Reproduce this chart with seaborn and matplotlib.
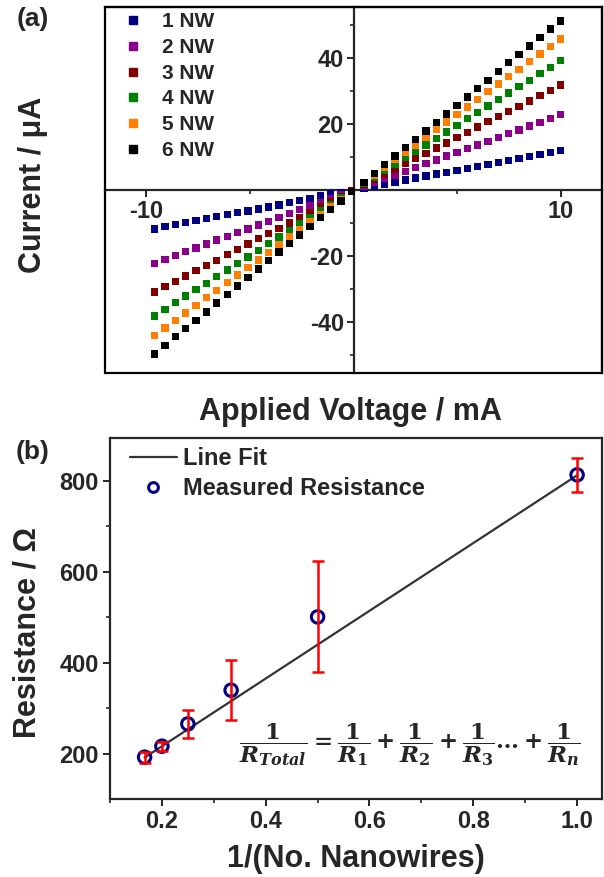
import numpy as np
import pandas as pd
import matplotlib
matplotlib.use("Agg")
import matplotlib.pyplot as plt
from matplotlib.patches import Rectangle
from matplotlib.lines import Line2D
import seaborn as sns

# ---------------- data: panel (a) ----------------
voltage = [-9.6, -9.1, -8.6, -8.1, -7.6, -7.1, -6.6, -6.1, -5.6, -5.1,
           -4.6, -4.1, -3.6, -3.1, -2.6, -2.1, -1.6, -1.1, -0.6, -0.1,
           0.5, 1.0, 1.5, 2.0, 2.5, 3.0, 3.5, 4.0, 4.5, 5.0,
           5.5, 6.0, 6.5, 7.0, 7.5, 8.0, 8.5, 9.0, 9.5, 10.0]

nw1 = [-11.8, -11.1, -10.4, -9.9, -9.3, -8.7, -8.1, -7.5, -6.9, -6.4,
       -5.8, -5.2, -4.5, -3.7, -3.2, -2.5, -1.8, -1.2, -0.8, -0.1,
       0.6, 1.2, 1.8, 2.4, 3.0, 3.6, 4.2, 4.8, 5.4, 6.0,
       6.5, 7.1, 7.7, 8.3, 8.9, 9.5, 10.1, 10.7, 11.3, 11.9]
nw2 = [-22.2, -21.0, -19.9, -18.7, -17.6, -16.4, -15.2, -14.1, -12.9, -11.8,
       -10.6, -9.5, -8.3, -7.2, -6.0, -4.9, -3.7, -2.5, -1.4, -0.2,
       1.1, 2.3, 3.4, 4.6, 5.7, 6.8, 8.0, 9.1, 10.3, 11.4,
       12.5, 13.7, 14.8, 16.0, 17.1, 18.2, 19.4, 20.5, 21.7, 22.8]
nw3 = [-30.9, -29.3, -27.7, -26.1, -24.5, -22.9, -21.3, -19.6, -18.0, -16.4,
       -14.8, -13.2, -11.6, -10.0, -8.4, -6.8, -5.2, -3.5, -1.9, -0.3,
       1.6, 3.2, 4.8, 6.4, 8.0, 9.5, 11.1, 12.7, 14.3, 15.9,
       17.5, 19.1, 20.7, 22.3, 23.9, 25.4, 27.0, 28.6, 30.2, 31.8]
nw4 = [-38.2, -36.2, -34.2, -32.2, -30.2, -28.3, -26.3, -24.3, -22.3, -20.3,
       -18.3, -16.3, -14.3, -12.3, -10.3, -8.4, -6.4, -4.4, -2.4, -0.4,
       2.0, 3.9, 5.9, 7.8, 9.8, 11.8, 13.7, 15.7, 17.6, 19.6,
       21.6, 23.5, 25.5, 27.4, 29.4, 31.4, 33.3, 35.3, 37.2, 39.2]
nw5 = [-44.2, -41.9, -39.6, -37.3, -35.0, -32.7, -30.4, -28.1, -25.8, -23.5,
       -21.2, -18.9, -16.6, -14.3, -12.0, -9.7, -7.4, -5.1, -2.8, -0.5,
       2.3, 4.6, 6.9, 9.2, 11.5, 13.7, 16.0, 18.3, 20.6, 22.9,
       25.2, 27.5, 29.8, 32.1, 34.4, 36.6, 38.9, 41.2, 43.5, 45.8]
nw6 = [-49.7, -47.1, -44.4, -42.0, -39.5, -37.0, -34.3, -31.7, -29.1, -26.6,
       -24.0, -21.4, -18.8, -16.2, -13.6, -11.1, -8.4, -5.9, -3.3, -0.5,
       2.3, 5.1, 7.7, 10.3, 12.8, 15.4, 17.9, 20.5, 23.0, 25.7,
       28.2, 30.8, 33.3, 36.0, 38.6, 41.1, 43.7, 46.3, 48.8, 51.3]

series_names = ["1 NW", "2 NW", "3 NW", "4 NW", "5 NW", "6 NW"]
series_vals = [nw1, nw2, nw3, nw4, nw5, nw6]
series_colors = ["#000080", "#8B008B", "#800000", "#008000", "#FF8000", "#000000"]

# ---------------- data: panel (b) ----------------
inv_n = [1/6, 1/5, 1/4, 1/3, 1/2, 1.0]
resistance = [193, 217, 266, 340, 501, 813]
res_err = [12, 10, 31, 66, 122, 37]
fit_slope = 744.0
fit_intercept = 68.0
fit_range = [1/6, 1.0]

# ---------------- style ----------------
sns.set_style("ticks")
plt.rcParams["font.family"] = ["Liberation Sans", "DejaVu Sans"]
plt.rcParams["font.weight"] = "bold"
plt.rcParams["axes.labelweight"] = "bold"
plt.rcParams["axes.unicode_minus"] = False
plt.rcParams["mathtext.fontset"] = "dejavuserif"

W, H = 604, 877
fig = plt.figure(figsize=(W / 100, H / 100), dpi=100)

def ax_rect(l, t, r, b):
    return [l / W, 1 - b / H, (r - l) / W, (b - t) / H]

# ================= panel (a) =================
axa = fig.add_axes(ax_rect(105, 7, 602, 373))
df = pd.DataFrame({
    "V": np.tile(voltage, len(series_names)),
    "I": np.concatenate(series_vals),
    "sample": np.repeat(series_names, len(voltage)),
})
sns.scatterplot(data=df, x="V", y="I", hue="sample", palette=series_colors,
                hue_order=series_names, marker="s", s=28, linewidth=0,
                ax=axa, legend=False, zorder=3)
axa.set_xlim(-12, 12)
axa.set_ylim(-55.5, 55.5)
for side in ["left", "bottom"]:
    axa.spines[side].set_position(("data", 0))
    axa.spines[side].set_linewidth(1.6)
for side in ["right", "top"]:
    axa.spines[side].set_linewidth(1.6)
axa.add_patch(Rectangle((0, 0), 1, 1, transform=axa.transAxes, fill=False,
                        lw=1.6, ec="black", clip_on=False, zorder=5))
axa.set_xticks([-10, 10])
axa.set_xticks([-5, 5], minor=True)
axa.set_yticks([-40, -20, 20, 40])
axa.set_yticks([-50, -30, -10, 10, 30, 50], minor=True)
axa.tick_params(axis="both", which="major", direction="out", length=5,
                width=1.4, labelsize=17, pad=2)
axa.tick_params(axis="both", which="minor", direction="out", length=3, width=1.2)
for lab in axa.get_xticklabels() + axa.get_yticklabels():
    lab.set_fontweight("bold")
axa.set_xlabel("")
axa.set_ylabel("")

handles = [Line2D([], [], marker="s", ls="none", color=c, markersize=6)
           for c in series_colors]
axa.legend(handles, series_names, loc="upper left", bbox_to_anchor=(0.035, 0.985),
           frameon=False, handlelength=1.0, handletextpad=0.9,
           labelspacing=0.32, borderpad=0, borderaxespad=0,
           prop={"weight": "bold", "size": 15})

fig.text(33 / W, 1 - 185 / H, "Current / \u03bcA", rotation=90, ha="center",
         va="center", fontsize=22, fontweight="bold")
fig.text(350 / W, 1 - 412 / H, "Applied Voltage / mA", ha="center", va="center",
         fontsize=22, fontweight="bold")
fig.text(33 / W, 1 - 19 / H, "(a)", ha="center", va="center", fontsize=19,
         fontweight="bold")

# ================= panel (b) =================
axb = fig.add_axes(ax_rect(110, 438, 602, 799))
fx = np.array(fit_range)
axb.plot(fx, fit_intercept + fit_slope * fx, color="#333333", lw=1.6, zorder=2)
sns.scatterplot(x=inv_n, y=resistance, marker="o", s=80, fc="none",
                ec="#000080", linewidth=2.2, ax=axb, zorder=3, legend=False)
axb.errorbar(inv_n, resistance, yerr=res_err, fmt="none", ecolor="#FF0000",
             elinewidth=1.8, capsize=4.5, capthick=1.8, zorder=4)
axb.set_xlim(0.1, 1.048)
axb.set_ylim(101, 894)
axb.set_xticks([0.2, 0.4, 0.6, 0.8, 1.0])
axb.set_xticklabels(["0.2", "0.4", "0.6", "0.8", "1.0"])
axb.set_xticks([0.1, 0.3, 0.5, 0.7, 0.9], minor=True)
axb.set_yticks([200, 400, 600, 800])
axb.set_yticks([300, 500, 700], minor=True)
axb.tick_params(axis="both", which="major", direction="out", length=5,
                width=1.4, labelsize=17, pad=3)
axb.tick_params(axis="both", which="minor", direction="out", length=3, width=1.2)
for s in axb.spines.values():
    s.set_linewidth(1.6)
for lab in axb.get_xticklabels() + axb.get_yticklabels():
    lab.set_fontweight("bold")
axb.set_xlabel("")
axb.set_ylabel("")

hb = [Line2D([], [], color="#333333", lw=1.6),
      Line2D([], [], marker="o", ls="none", mfc="none", mec="#000080", mew=2.2,
             markersize=7)]
axb.legend(hb, ["Line Fit", "Measured Resistance"], loc="upper left",
           bbox_to_anchor=(0.04, 0.975), frameon=False, handlelength=2.0,
           handletextpad=0.25, labelspacing=0.3, borderpad=0, borderaxespad=0,
           prop={"weight": "bold", "size": 17})

axb.text(410 / W, 1 - 745 / H,
         r"$\dfrac{1}{R_{Total}}=\dfrac{1}{R_1}+\dfrac{1}{R_2}+\dfrac{1}{R_3}\ldots+\dfrac{1}{R_n}$",
         transform=fig.transFigure, ha="center", va="center", fontsize=16.5)

fig.text(28 / W, 1 - 633 / H, "Resistance / \u03a9", rotation=90, ha="center",
         va="center", fontsize=22, fontweight="bold")
fig.text(356 / W, 1 - 859 / H, "1/(No. Nanowires)", ha="center", va="center",
         fontsize=22, fontweight="bold")
fig.text(33 / W, 1 - 452 / H, "(b)", ha="center", va="center", fontsize=19,
         fontweight="bold")

fig.savefig("out.png", dpi=100)
